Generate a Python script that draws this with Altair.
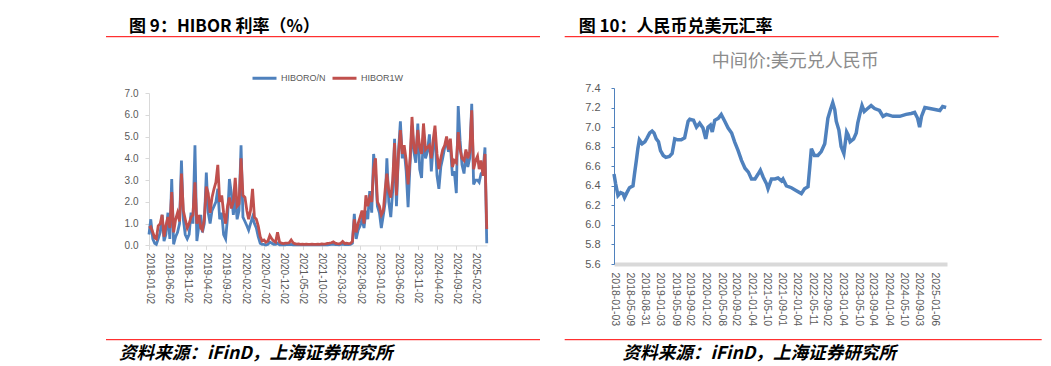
import altair as alt
import pandas as pd

# ---------------- data ----------------
hibor_dates = [
    "2018-01-02", "2018-01-16", "2018-02-01", "2018-02-16", "2018-03-01", "2018-03-16",
    "2018-04-01", "2018-04-16", "2018-05-01", "2018-05-16", "2018-06-01", "2018-06-16",
    "2018-07-01", "2018-07-16", "2018-08-01", "2018-08-16", "2018-09-01", "2018-09-16",
    "2018-10-01", "2018-10-16", "2018-11-01", "2018-11-16", "2018-12-01", "2018-12-16",
    "2019-01-01", "2019-01-16", "2019-02-01", "2019-02-16", "2019-03-01", "2019-03-16",
    "2019-04-01", "2019-04-16", "2019-05-01", "2019-05-16", "2019-06-01", "2019-06-16",
    "2019-07-01", "2019-07-16", "2019-08-01", "2019-08-16", "2019-09-01", "2019-09-16",
    "2019-10-01", "2019-10-16", "2019-11-01", "2019-11-16", "2019-12-01", "2019-12-16",
    "2020-01-01", "2020-01-16", "2020-02-01", "2020-02-16", "2020-03-01", "2020-03-16",
    "2020-04-01", "2020-04-16", "2020-05-01", "2020-05-16", "2020-06-01", "2020-06-16",
    "2020-07-01", "2020-07-16", "2020-08-01", "2020-08-16", "2020-09-01", "2020-09-16",
    "2020-10-01", "2020-10-16", "2020-11-01", "2020-11-16", "2020-12-01", "2020-12-16",
    "2021-01-01", "2021-01-16", "2021-02-01", "2021-02-16", "2021-03-01", "2021-03-16",
    "2021-04-01", "2021-04-16", "2021-05-01", "2021-05-16", "2021-06-01", "2021-06-16",
    "2021-07-01", "2021-07-16", "2021-08-01", "2021-08-16", "2021-09-01", "2021-09-16",
    "2021-10-01", "2021-10-16", "2021-11-01", "2021-11-16", "2021-12-01", "2021-12-16",
    "2022-01-01", "2022-01-16", "2022-02-01", "2022-02-16", "2022-03-01", "2022-03-16",
    "2022-04-01", "2022-04-16", "2022-05-01", "2022-05-16", "2022-06-01", "2022-06-16",
    "2022-07-01", "2022-07-16", "2022-08-01", "2022-08-16", "2022-09-01", "2022-09-16",
    "2022-10-01", "2022-10-16", "2022-11-01", "2022-11-16", "2022-12-01", "2022-12-16",
    "2023-01-01", "2023-01-16", "2023-02-01", "2023-02-16", "2023-03-01", "2023-03-16",
    "2023-04-01", "2023-04-16", "2023-05-01", "2023-05-16", "2023-06-01", "2023-06-16",
    "2023-07-01", "2023-07-16", "2023-08-01", "2023-08-16", "2023-09-01", "2023-09-16",
    "2023-10-01", "2023-10-16", "2023-11-01", "2023-11-16", "2023-12-01", "2023-12-16",
    "2024-01-01", "2024-01-16", "2024-02-01", "2024-02-16", "2024-03-01", "2024-03-16",
    "2024-04-01", "2024-04-16", "2024-05-01", "2024-05-16", "2024-06-01", "2024-06-16",
    "2024-07-01", "2024-07-16", "2024-08-01", "2024-08-16", "2024-09-01", "2024-09-16",
    "2024-10-01", "2024-10-16", "2024-11-01", "2024-11-16", "2024-12-01", "2024-12-16",
    "2025-01-01", "2025-01-16", "2025-02-01", "2025-02-16", "2025-03-01", "2025-03-16",
    "2025-04-01", "2025-04-16", "2025-04-30",
]

hibor_on = [
    0.5, 1.2, 0.3, 0.1, 0.05, 0.3, 0.6, 1.4, 0.2, 0.5, 1.5, 0.3,
    3.05, 0.05, 0.4, 0.6, 1.0, 3.9, 1.2, 0.5, 0.3, 0.5, 1.5, 1.0,
    4.6, 0.2, 0.9, 1.4, 0.6, 1.0, 3.35, 1.5, 1.0, 1.6, 1.8, 2.0,
    2.6, 1.2, 1.5, 0.5, 0.3, 1.3, 3.05, 2.4, 1.4, 2.2, 1.2, 1.6,
    4.6, 1.3, 1.1, 0.9, 0.7, 1.0, 1.3, 1.0, 0.8, 0.4, 0.1, 0.05,
    0.05, 0.02, 0.05, 0.15, 0.1, 0.05, 0.05, 0.1, 0.03, 0.03, 0.03, 0.03,
    0.05, 0.04, 0.05, 0.03, 0.03, 0.02, 0.03, 0.02, 0.02, 0.02, 0.03, 0.02,
    0.02, 0.02, 0.03, 0.02, 0.02, 0.02, 0.03, 0.02, 0.02, 0.03, 0.04, 0.05,
    0.06, 0.04, 0.04, 0.03, 0.05, 0.06, 0.04, 0.05, 0.04, 0.05, 0.10, 1.45,
    0.3, 0.7, 0.9, 1.2, 0.8, 1.6, 1.2, 2.5, 1.5, 4.2, 3.4, 1.8,
    1.5, 0.8, 1.4, 2.0, 4.0, 2.0, 1.3, 2.5, 4.9, 1.8, 4.3, 5.7,
    4.0, 4.4, 3.4, 1.75, 3.8, 5.5, 4.3, 3.8, 5.6, 3.5, 3.1, 5.2,
    4.0, 4.3, 5.1, 3.4, 4.5, 5.2, 3.2, 2.6, 3.6, 4.0, 4.5, 4.8,
    4.3, 4.6, 3.2, 3.4, 2.4, 6.4, 4.8, 3.7, 3.3, 4.2, 3.6, 4.0,
    6.5, 2.8, 3.0, 3.0, 2.9, 3.3, 3.4, 4.5, 0.1,
]

hibor_1w = [
    0.8, 0.85, 0.6, 0.35, 0.3, 0.9, 1.0, 1.4, 0.4, 0.9, 1.3, 0.8,
    2.45, 0.6, 1.2, 1.5, 1.1, 3.3, 1.6, 1.2, 0.8, 1.0, 1.3, 1.4,
    2.9, 1.0, 1.4, 0.8, 0.7, 1.2, 2.7, 2.4, 1.5, 2.2, 2.6, 2.9,
    3.7, 2.0, 2.3, 1.5, 1.0, 1.8, 2.2, 1.7, 2.0, 3.1, 1.8, 1.9,
    4.0, 2.3, 2.2, 1.6, 1.2, 1.6, 2.6, 1.3, 1.2, 0.9, 0.4, 0.2,
    0.25, 0.15, 0.2, 0.45, 0.3, 0.2, 0.15, 0.6, 0.15, 0.1, 0.08, 0.1,
    0.1, 0.12, 0.25, 0.12, 0.08, 0.06, 0.07, 0.05, 0.06, 0.05, 0.06, 0.05,
    0.05, 0.06, 0.05, 0.05, 0.06, 0.05, 0.07, 0.06, 0.07, 0.09, 0.1, 0.12,
    0.16, 0.1, 0.08, 0.07, 0.1, 0.18, 0.09, 0.1, 0.08, 0.09, 0.18, 1.2,
    0.6, 1.0, 1.3, 1.6, 1.0, 2.3, 1.8, 2.2, 2.0, 3.5, 4.0, 2.0,
    1.8, 1.4, 1.6, 2.6, 3.3, 2.5, 2.2, 3.0, 4.7, 2.3, 4.2, 5.3,
    4.2, 4.6, 3.9, 2.8, 4.0, 5.9, 4.5, 4.2, 5.3, 4.5, 4.2, 5.6,
    4.4, 4.5, 4.6, 4.0, 4.8, 5.5, 4.2, 3.5, 4.0, 4.4, 4.6, 5.0,
    4.4, 4.9, 3.6, 3.9, 3.8, 5.2, 4.4, 4.0, 3.9, 4.4, 4.0, 4.3,
    6.2, 3.5, 3.9, 4.1, 3.5, 3.9, 3.2, 4.2, 0.75,
]

hibor_series = ["HIBORO/N", "HIBOR1W"]
hibor_ticks = [
    "2018-01-02", "2018-06-02", "2018-11-02", "2019-04-02", "2019-09-02", "2020-02-02",
    "2020-07-02", "2020-12-02", "2021-05-02", "2021-10-02", "2022-03-02", "2022-08-02",
    "2023-01-02", "2023-06-02", "2023-11-02", "2024-04-02", "2024-09-02", "2025-02-02",
]
hibor_range = ["2018-01-02", "2025-05-02"]
hibor_yticks = [0, 1, 2, 3, 4, 5, 6, 7]

cny_dates = [
    "2018-01-03", "2018-01-16", "2018-02-04", "2018-02-25", "2018-03-16", "2018-03-28",
    "2018-04-16", "2018-05-07", "2018-06-04", "2018-06-16", "2018-07-01", "2018-07-13",
    "2018-07-25", "2018-08-16", "2018-09-07", "2018-09-25", "2018-10-16", "2018-11-04",
    "2018-11-19", "2018-12-07", "2018-12-25", "2019-01-10", "2019-02-01", "2019-02-22",
    "2019-03-22", "2019-04-13", "2019-05-04", "2019-05-28", "2019-06-25", "2019-07-22",
    "2019-08-19", "2019-09-01", "2019-10-01", "2019-10-25", "2019-11-19", "2019-12-16",
    "2020-01-07", "2020-01-25", "2020-02-13", "2020-02-28", "2020-03-19", "2020-04-16",
    "2020-05-10", "2020-06-07", "2020-07-04", "2020-08-01", "2020-08-25", "2020-09-22",
    "2020-10-19", "2020-11-16", "2020-12-13", "2021-01-07", "2021-02-04", "2021-03-01",
    "2021-03-19", "2021-04-10", "2021-05-07", "2021-05-19", "2021-06-16", "2021-07-13",
    "2021-08-07", "2021-09-04", "2021-09-16", "2021-10-13", "2021-11-22", "2022-01-01",
    "2022-02-10", "2022-03-07", "2022-04-04", "2022-04-16", "2022-05-01", "2022-05-25",
    "2022-06-22", "2022-07-19", "2022-08-16", "2022-09-10", "2022-10-01", "2022-10-19",
    "2022-11-04", "2022-11-16", "2022-12-07", "2022-12-25", "2023-01-16", "2023-02-07",
    "2023-02-19", "2023-03-07", "2023-04-04", "2023-04-25", "2023-05-07", "2023-05-25",
    "2023-06-10", "2023-06-28", "2023-07-25", "2023-08-22", "2023-09-19", "2023-10-28",
    "2023-11-25", "2023-12-22", "2024-02-13", "2024-04-07", "2024-05-28", "2024-07-07",
    "2024-08-04", "2024-08-28", "2024-09-13", "2024-09-28", "2024-10-25", "2024-12-04",
    "2025-01-13", "2025-02-22", "2025-03-16", "2025-04-13",
]
cny_mid = [
    6.52, 6.42, 6.30, 6.33, 6.32, 6.28,
    6.33, 6.38, 6.40, 6.52, 6.66, 6.78,
    6.87, 6.83, 6.85, 6.89, 6.94, 6.96,
    6.94, 6.88, 6.85, 6.76, 6.71, 6.69,
    6.70, 6.73, 6.88, 6.87, 6.87, 6.89,
    7.06, 7.08, 7.07, 7.00, 7.04, 6.99,
    6.88, 7.00, 7.02, 6.95, 7.07, 7.09,
    7.13, 7.06, 6.99, 6.94, 6.85, 6.76,
    6.66, 6.58, 6.54, 6.47, 6.47, 6.52,
    6.56, 6.49, 6.42, 6.37, 6.47, 6.47,
    6.48, 6.45, 6.47, 6.40, 6.38, 6.35,
    6.32, 6.37, 6.39, 6.56, 6.78, 6.71,
    6.71, 6.75, 6.83, 7.09, 7.18, 7.25,
    7.18, 7.06, 6.97, 6.80, 6.73, 6.95,
    6.92, 6.85, 6.88, 6.94, 7.04, 7.14,
    7.22, 7.16, 7.19, 7.22, 7.19, 7.17,
    7.11, 7.13, 7.11, 7.11, 7.13, 7.14,
    7.15, 7.09, 7.00, 7.11, 7.20, 7.19,
    7.18, 7.17, 7.21, 7.20,
]
cny_ticks = [
    "2018-01-03", "2018-05-09", "2018-08-31", "2019-01-03", "2019-05-09", "2019-09-02",
    "2020-01-02", "2020-05-08", "2020-09-02", "2021-01-04", "2021-05-10", "2021-09-01",
    "2022-01-04", "2022-05-11", "2022-09-02", "2023-01-04", "2023-05-10", "2023-09-04",
    "2024-01-04", "2024-05-10", "2024-09-03", "2025-01-06",
]
cny_range = ["2018-01-03", "2025-04-20"]
cny_yticks = [5.6, 5.8, 6.0, 6.2, 6.4, 6.6, 6.8, 7.0, 7.2, 7.4]

title_left = "图 9：HIBOR 利率（%）"
title_right = "图 10：人民币兑美元汇率"
subtitle_right = "中间价:美元兑人民币"
source_text = "资料来源：iFinD，上海证券研究所"

# ---------------- helpers ----------------
BLUE = "#4F81BD"
RED = "#C0504D"
GRAY_TXT = "#595959"
AXIS_GRAY = "#D9D9D9"
CJK = "Noto Sans CJK SC"
LATIN = "Liberation Sans"


def to_ms(dates):
    s = pd.to_datetime(pd.Series(dates))
    return ((s - pd.Timestamp("1970-01-01")) // pd.Timedelta(milliseconds=1)).astype("int64").tolist()


def text_layer(txt, x, y, size, color="#000000", weight="normal", style="normal", align="left"):
    return alt.Chart(pd.DataFrame({"s": [txt]})).mark_text(
        align=align, baseline="alphabetic", fontSize=size, font=CJK,
        fontWeight=weight, fontStyle=style, color=color,
    ).encode(x=alt.value(x), y=alt.value(y), text="s:N")


def rule_layer(x1, x2, y, color="#FF0000", w=1):
    return alt.Chart(pd.DataFrame({"a": [0]})).mark_rule(color=color, strokeWidth=w).encode(
        x=alt.value(x1), x2=alt.value(x2), y=alt.value(y)
    )


# ---------------- left panel: HIBOR ----------------
assert len(hibor_dates) == len(hibor_on) == len(hibor_1w)
df_h = pd.DataFrame({"t": to_ms(hibor_dates), hibor_series[0]: hibor_on, hibor_series[1]: hibor_1w})
df_h = df_h.melt("t", var_name="series", value_name="v")

# plot-area origin shared with the right panel; the y range starts 5px lower
LW, LH = 338, 157.4
xl = alt.X(
    "t:Q",
    scale=alt.Scale(domain=to_ms(hibor_range), nice=False, zero=False),
    axis=alt.Axis(
        values=to_ms(hibor_ticks), labelExpr="utcFormat(datum.value, '%Y-%m-%d')",
        labelAngle=90, labelFontSize=10, labelFont=LATIN, labelColor=GRAY_TXT,
        labelPadding=3, tickSize=4, tickColor=AXIS_GRAY, domainColor=AXIS_GRAY,
        grid=False, labelOverlap=False, labelBound=False, labelFlush=False,
    ),
    title=None,
)
yl = alt.Y(
    "v:Q",
    scale=alt.Scale(domain=[0, 7], nice=False, range=[LH, 5]),
    axis=alt.Axis(
        values=hibor_yticks, format=".1f", labelFontSize=10, labelFont=LATIN,
        labelColor=GRAY_TXT, labelPadding=7, tickSize=4, tickColor=AXIS_GRAY,
        domainColor=AXIS_GRAY, grid=False,
    ),
    title=None,
)
color = alt.Color(
    "series:N",
    scale=alt.Scale(domain=hibor_series, range=[BLUE, RED]),
    legend=alt.Legend(
        title=None, orient="none", legendX=102, legendY=-23.5, direction="horizontal",
        symbolType="stroke", symbolSize=576, symbolStrokeWidth=3,
        labelFontSize=9, labelFont=LATIN, labelColor=GRAY_TXT, labelOffset=3,
        columnPadding=0, padding=0,
    ),
)
line_on = alt.Chart(df_h).transform_filter(f"datum.series == '{hibor_series[0]}'").mark_line(
    strokeWidth=2.8).encode(x=xl, y=yl, color=color)
line_1w = alt.Chart(df_h).transform_filter(f"datum.series == '{hibor_series[1]}'").mark_line(
    strokeWidth=2.8).encode(x=xl, y=yl, color=color)

left = alt.layer(
    line_on, line_1w,
    text_layer(title_left, -20, -56.3, 17, weight="bold"),
    rule_layer(-43, 391, -51.3),
    rule_layer(-43, 391, 251.7),
    text_layer(source_text, -30, 270.7, 17.6, weight="bold", style="italic"),
).properties(width=LW, height=LH)

# ---------------- right panel: USD/CNY ----------------
df_c = pd.DataFrame({"t": to_ms(cny_dates), "v": cny_mid})
RW, RH = 333, 176
xr = alt.X(
    "t:Q",
    scale=alt.Scale(domain=to_ms(cny_range), nice=False, zero=False),
    axis=alt.Axis(
        values=to_ms(cny_ticks), labelExpr="utcFormat(datum.value, '%Y-%m-%d')",
        labelAngle=90, labelFontSize=10.5, labelFont=LATIN, labelColor=GRAY_TXT,
        labelPadding=8, ticks=False, domainColor=AXIS_GRAY, domainWidth=4,
        grid=False, labelOverlap=False, labelBound=False, labelFlush=False,
    ),
    title=None,
)
yr = alt.Y(
    "v:Q",
    scale=alt.Scale(domain=[5.6, 7.4], nice=False, zero=False),
    axis=alt.Axis(
        values=cny_yticks, format=".1f", labelFontSize=11, labelFont=LATIN,
        labelColor=GRAY_TXT, labelPadding=11, tickSize=3, tickColor=BLUE,
        domainColor=BLUE, grid=False,
    ),
    title=None,
)
line_c = alt.Chart(df_c).mark_line(color=BLUE, strokeWidth=3.5).encode(x=xr, y=yr)

right = alt.layer(
    line_c,
    text_layer(title_right, -35.3, -56.3, 17, weight="bold"),
    rule_layer(-49.3, 384.7, -51.3),
    text_layer(subtitle_right, 181.2, -21.3, 18, color="#8C8C8C", align="center"),
    rule_layer(-49.3, 427.7, 251.7),
    text_layer(source_text, 8.5, 270.7, 17.6, weight="bold", style="italic"),
).properties(width=RW, height=RH)

chart = alt.hconcat(left, right, spacing=23).properties(
    padding={"left": 97, "top": 9, "right": 0, "bottom": 4}
).configure_view(stroke=None)

chart.save("out.html", embed_options={"renderer": "svg", "actions": False})
